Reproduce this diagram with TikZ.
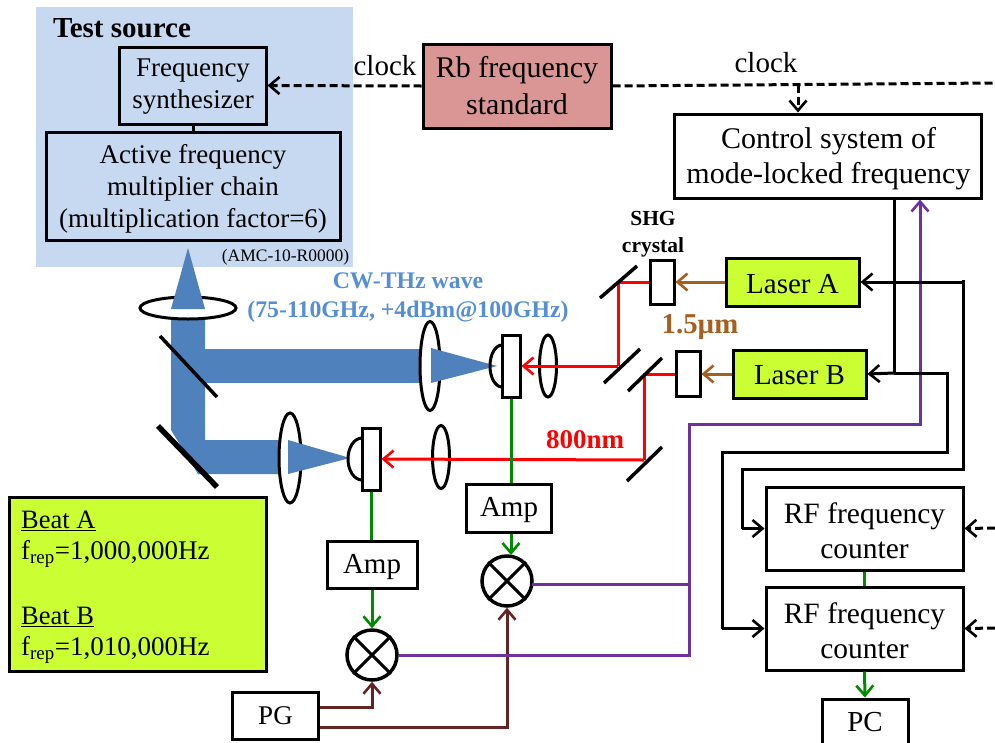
\documentclass[tikz,border=0pt]{standalone}
\usepackage{fontspec}
\setmainfont{Liberation Serif}
\usetikzlibrary{arrows.meta,calc,shapes.geometric}
\definecolor{bgblue}{HTML}{C6D9F1}
\definecolor{beam}{HTML}{4F81BD}
\definecolor{wavetxt}{HTML}{558ED5}
\definecolor{rbred}{HTML}{D99694}
\definecolor{lime}{HTML}{CCFF33}
\definecolor{brownline}{HTML}{A5601F}
\definecolor{darkred}{HTML}{632523}
\definecolor{purpleline}{HTML}{7030A0}
\definecolor{greenline}{HTML}{008A00}
\newcommand{\fs}[2]{\fontsize{#1}{#2}\selectfont}
\tikzset{
  x=1pt,y=-1pt,
  box/.style={draw=black,line width=3pt,fill=white,inner sep=0pt,align=center,font=\fs{29.5}{35}},
  bluebox/.style={box,fill=bgblue},
  limebox/.style={box,fill=lime,font=\fs{29}{35}},
  rbbox/.style={box,fill=rbred,font=\fs{30}{37}},
  elem/.style={draw=black,line width=3pt,fill=white,inner sep=0pt},
  lens/.style={draw=black,line width=3pt,fill=white,ellipse,inner sep=0pt},
  mixer/.style={draw=black,line width=3.5pt,fill=white,circle,inner sep=0pt,minimum size=50pt},
  mirror/.style={draw=black,line width=3.5pt},
  txt/.style={inner sep=0pt,align=center},
  ar/.style={-{Straight Barb[length=10pt,width=17pt,line width=2.6pt]}},
  blk/.style={draw=black,line width=3pt},
  dsh/.style={draw=black,line width=3pt,dash pattern=on 8pt off 4pt},
  redl/.style={draw=red,line width=3pt},
  grn/.style={draw=greenline,line width=3pt},
  brn/.style={draw=brownline,line width=3pt},
  drd/.style={draw=darkred,line width=3pt},
  prp/.style={draw=purpleline,line width=3pt},
}
\newcommand{\bx}[6][box]{\node[#1,minimum width=#4pt,minimum height=#5pt] (#2) at (#3) {#6};}
\newcommand{\lensv}[4]{\node[lens,minimum width=#3pt,minimum height=#4pt] (#1) at (#2) {};}
\begin{document}
\begin{tikzpicture}
\useasboundingbox (0,0) rectangle (995,742);
% test source background
\fill[bgblue] (36,7) rectangle (353,267);
\node[txt,font=\bfseries\fs{29}{30}] (testsrc) at (122,28) {Test source};
\node[txt,font=\fs{17.5}{20}] (amc) at (285.5,257) {(AMC-10-R0000)};
\bx[bluebox]{synth}{192.5,85.5}{147}{77}{}
\node[txt,font=\fs{27}{32}] (synthtxt) at (193,87) {Frequency\\synthesizer};
\bx[bluebox]{afmc}{193,186}{294}{108}{}
\node[txt,font=\fs{27}{32}] (afmctxt) at (193,189) {Active frequency\\multiplier chain\\(multiplication factor=6)};
\draw[blk] (synthtxt |- synth.south) -- (synthtxt |- afmc.north);
\bx[rbbox]{rb}{517,86}{188}{84}{Rb frequency\\standard}
\bx{ctrl}{827.5,156}{307}{84}{}
\node[txt,font=\fs{30}{35}] (ctrltxt) at (828.5,159) {Control system of\\mode-locked frequency};
% beams
\fill[beam] (171,305) -- (205,305) -- (205,440) -- (285,440) -- (285,474) -- (198,474) -- (171,430) -- cycle;
\fill[beam] (200,349) rectangle (428,383);
% lenses
\lensv{lh}{188,308}{96}{22}
\lensv{l1}{430,366}{20}{89}
\lensv{l2}{548,366}{17}{62}
\lensv{l3}{290,458}{22}{90}
\lensv{l4}{441,457}{17}{63}
\fill[beam] (171,309) -- (188,248) -- (205,309) -- cycle;
\fill[beam] (431,348) -- (497,366) -- (431,383) -- cycle;
\fill[beam] (288,440) -- (350,458) -- (288,474) -- cycle;
% mirrors
\coordinate (m1a) at (160,336); \coordinate (m1b) at (217,397);
\coordinate (m2a) at (158,426); \coordinate (m2b) at (217,487);
\draw[mirror] (m1a) -- (m1b);
\draw[mirror,line width=5.5pt] (m2a) -- (m2b);
\coordinate (m3a) at (600,298); \coordinate (m3b) at (637,266);
\coordinate (m4a) at (604,383); \coordinate (m4b) at (640,349);
\coordinate (m5a) at (628,391); \coordinate (m5b) at (662,358);
\coordinate (m6a) at (627,481); \coordinate (m6b) at (662,447);
% detectors
\draw[elem,fill=none] (502,345) arc[start angle=90,end angle=270,x radius=12pt,y radius=21pt];
\draw[elem,fill=none] (362,438) arc[start angle=90,end angle=270,x radius=14pt,y radius=21pt];
\bx[elem]{d1}{511,366}{18}{62}{}
\bx[elem]{d2}{371,459}{18}{62}{}
% SHG crystals
\bx[elem]{sa}{662,282}{24}{44}{}
\bx[elem]{sb}{688,374}{24}{45}{}
% lasers
\bx[limebox]{la}{792.5,282}{133}{48}{}
\node[txt,font=\fs{29}{35}] (latxt) at (792.5,284) {Laser A};
\bx[limebox]{lb}{799.5,374}{133}{48}{}
\node[txt,font=\fs{29}{35}] (lbtxt) at (799.5,375) {Laser B};
% coordinates for the red path
\coordinate (ra) at (618,282);
\coordinate (rb1) at (618,366);
\coordinate (rc) at (644,374);
\coordinate (rd) at (644,460);
% red
\draw[redl] (sa.west) -- (ra) -- (rb1);
\draw[redl,ar] (rb1) -- (d1.east);
\draw[redl] (sb.west) -- (rc) -- (rd);
\draw[redl,ar] (rd) -- (d2.east);
% mirrors above the red line
\draw[mirror] (m3a) -- (m3b);
\draw[mirror] (m4a) -- (m4b);
\draw[mirror] (m5a) -- (m5b);
\draw[mirror] (m6a) -- (m6b);
% brown
\draw[brn,ar] (la.west) -- (sa.east);
\draw[brn,ar] (lb.west) -- (sb.east);
% amps
\bx{amp1}{508.5,508}{85}{48}{}
\node[txt,font=\fs{29}{35}] (amp1txt) at (509,510) {Amp};
\bx{amp2}{372,564.5}{90}{47}{}
\node[txt,font=\fs{29}{35}] (amp2txt) at (372,567) {Amp};
\node[mixer] (mx1) at (507,581) {};
\node[mixer] (mx2) at (372,655) {};
\draw[line width=3pt] (mx1.north west) -- (mx1.south east) (mx1.north east) -- (mx1.south west);
\draw[line width=3pt] (mx2.north west) -- (mx2.south east) (mx2.north east) -- (mx2.south west);
\bx{pg}{275,715.5}{86}{47}{}
\node[txt,font=\fs{27}{32}] (pgtxt) at (275.5,716) {PG};
% green
\coordinate (gm1) at (511,555);
\draw[grn] (d1.south) -- (d1.south |- amp1.north);
\draw[grn] (d2.south) -- (d2.south |- amp2.north);
\draw[grn,ar] (amp1.south -| gm1) -- (gm1);
\draw[grn,ar] (amp2.south -| mx2.north) -- (mx2.north);
% dark red
\coordinate (pg1) at (372,707);
\coordinate (pg2) at (507,727);
\draw[drd,ar] (pg.east |- pg1) -- (pg1) -- (mx2.south);
\draw[drd,ar] (pg.east |- pg2) -- (pg2) -- (mx1.south);
% RF counters
\bx{rf1}{864.5,528.5}{197}{83}{}
\node[txt,font=\fs{29.5}{35}] (rf1txt) at (864.5,531) {RF frequency\\counter};
\bx{rf2}{864.5,628.5}{197}{83}{}
\node[txt,font=\fs{29.5}{35}] (rf2txt) at (864.5,631) {RF frequency\\counter};
\bx{pc}{865,722}{86}{46}{}
\node[txt,font=\fs{29}{35}] (pctxt) at (865,722) {PC};
\draw[grn] (rf1.south) -- (rf2.north);
\draw[grn,ar] (rf2.south) -- (pc.north);
% purple
\coordinate (pa) at (689,584);
\coordinate (pb) at (689,655);
\coordinate (pc1) at (689,424);
\coordinate (pd) at (920,424);
\coordinate (pm1) at (532,584);
\draw[prp] (pm1) -- (pa);
\draw[prp,ar] (mx2.east) -- (pb) -- (pc1) -- (pd) -- (pd |- ctrl.south);
% black
\coordinate (ca) at (894,373);
\coordinate (cb) at (947,373);
\coordinate (cc) at (947,452);
\coordinate (cd) at (722,452);
\coordinate (ce) at (963,280);
\coordinate (cf) at (963,469);
\coordinate (cg) at (742,469);
\draw[blk] (ctrl.south -| ca) -- (ca);
\draw[blk,ar] (ca) -- (lb.east);
\draw[blk] (ca) -- (cb) -- (cc) -- (cd) -- (cd |- rf2.west);
\draw[blk,ar] (cd |- rf2.west) -- (rf2.west);
\draw[blk,ar] (ce |- la.east) -- (la.east);
\draw[blk] (ce) -- (cf) -- (cg) -- (cg |- rf1.west);
\draw[blk,ar] (cg |- rf1.west) -- (rf1.west);
% dashed clock
\coordinate (ka) at (995,83);
\coordinate (kb) at (798,85);
\coordinate (k1) at (995,528);
\coordinate (k2) at (995,628);
\draw[dsh] (rb.east) -- (ka);
\draw[dsh,ar] (kb) -- (kb |- ctrl.north);
\draw[dsh,ar] (rb.west) -- (synth.east);
\draw[dsh,ar] (k1) -- (rf1.east);
\draw[dsh,ar] (k2) -- (rf2.east);
% labels
\node[txt,font=\fs{29}{30}] (clk1) at (385,66) {clock};
\node[txt,font=\fs{29}{30}] (clk2) at (766,63) {clock};
\node[txt,font=\bfseries\fs{23.8}{29},text=wavetxt] (wave) at (408,298) {CW-THz wave\\(75-110GHz, +4dBm@100GHz)};
\node[txt,font=\bfseries\fs{21.5}{27}] (shg) at (653,234) {SHG\\crystal};
\node[txt,font=\bfseries\fs{28.8}{30},text=brownline] (um) at (700,327) {1.5µm};
\node[txt,font=\bfseries\fs{27}{30},text=red] (nm) at (585,440) {800nm};
% beat box
\node[draw=black,line width=3pt,fill=lime,minimum width=257pt,minimum height=174pt,inner sep=0pt] (beat) at (137.5,584) {};
\node[txt,anchor=west,font=\fs{26.5}{30}] (ba) at (21,521) {\underline{Beat A}};
\node[txt,anchor=west,font=\fs{27}{30}] (fa) at (21,554) {f\textsubscript{rep}=1,000,000Hz};
\node[txt,anchor=west,font=\fs{26.5}{30}] (bb) at (21,617) {\underline{Beat B}};
\node[txt,anchor=west,font=\fs{27}{30}] (fb) at (21,650) {f\textsubscript{rep}=1,010,000Hz};
\end{tikzpicture}
\end{document}
